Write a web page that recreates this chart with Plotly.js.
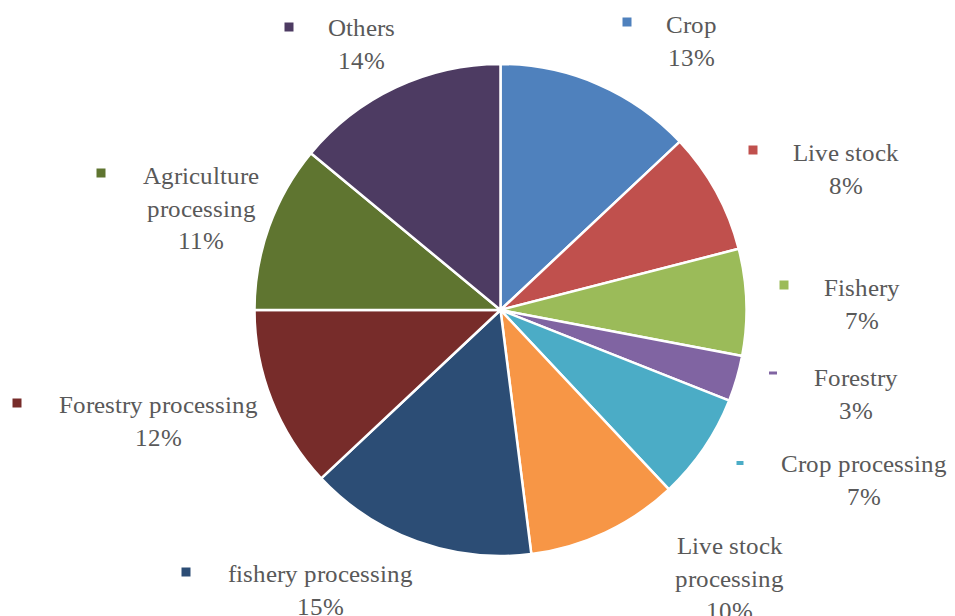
<!DOCTYPE html>
<html>
<head>
<meta charset="utf-8">
<script src="https://cdn.plot.ly/plotly-3.0.1.min.js"></script>
<style>
@font-face { font-family: 'ChartSerif'; src: local('Liberation Serif'), local('LiberationSerif'), local('LiberationSerif-Regular'), local('DejaVu Serif'), local('DejaVuSerif'); }
html,body{margin:0;padding:0;background:#fff;}#chart{width:955px;height:616px;}
</style>
</head>
<body>
<div id="chart"></div>
<script>
var categories = ['Crop','Live stock','Fishery','Forestry','Crop processing','Live stock processing','fishery processing','Forestry processing','Agriculture processing','Others'];
var labelText = ['Crop','Live stock','Fishery','Forestry','Crop processing','Live stock<br>processing','fishery processing','Forestry processing','Agriculture<br>processing','Others'];
var values = [13,8,7,3,7,10,15,12,11,14];
var colors = ['#4F81BD','#C0504D','#9BBB59','#8064A2','#4BACC6','#F79646','#2C4D75','#772C2A','#5F7530','#4D3B62'];

var W = 955, H = 616;
function px(x){ return x / W; }
function py(y){ return 1 - y / H; }

// label layout (pixel centers of text blocks) and legend-key markers
var labelPos = [[691,41],[846,169],[862,304],[856,394],[864,480],[729,578],[320,590],[158,421],[201,208],[361,44]];
var keyPos = [[627,22,9,9],[753,150,9,9],[784,285,9,9],[773,373,8,3],[740,463,7,4],null,[186,572,9,9],[17,403,9,9],[101,173,9,9],[289,27,9,9]];

var fontFamily = 'ChartSerif, "Liberation Serif", "DejaVu Serif", serif';

var total = values.reduce(function(a,b){return a+b;},0);
var annotations = [], shapes = [];
for (var i = 0; i < categories.length; i++) {
  var pct = Math.round(values[i] / total * 100) + '%';
  annotations.push({
    xref:'paper', yref:'paper', x:px(labelPos[i][0]), y:py(labelPos[i][1]),
    xanchor:'center', yanchor:'middle', showarrow:false, align:'center',
    text: labelText[i] + '<br>' + pct,
    font:{family:fontFamily, size:25, color:'#595959'}
  });
  var k = keyPos[i];
  if (k) {
    shapes.push({type:'rect', xref:'paper', yref:'paper',
      x0:px(k[0]-k[2]/2), x1:px(k[0]+k[2]/2), y0:py(k[1]+k[3]/2), y1:py(k[1]-k[3]/2),
      fillcolor:colors[i], line:{width:0}});
  }
}

var cx = 500.5, cy = 310, r = 246;
var trace = {
  type:'pie', labels:categories, values:values, sort:false, direction:'clockwise', rotation:0,
  marker:{colors:colors, line:{color:'#ffffff', width:2.5}},
  textinfo:'none', hoverinfo:'label+percent', showlegend:false,
  domain:{x:[px(cx-r), px(cx+r)], y:[py(cy+r), py(cy-r)]}
};

var layout = {
  width:W, height:H, margin:{l:0,r:0,t:0,b:0},
  font:{family:fontFamily, color:'#595959'},
  paper_bgcolor:'#ffffff', plot_bgcolor:'#ffffff',
  showlegend:false, annotations:annotations, shapes:shapes
};
Plotly.newPlot('chart', [trace], layout, {displayModeBar:false, staticPlot:true});
</script>
</body>
</html>
